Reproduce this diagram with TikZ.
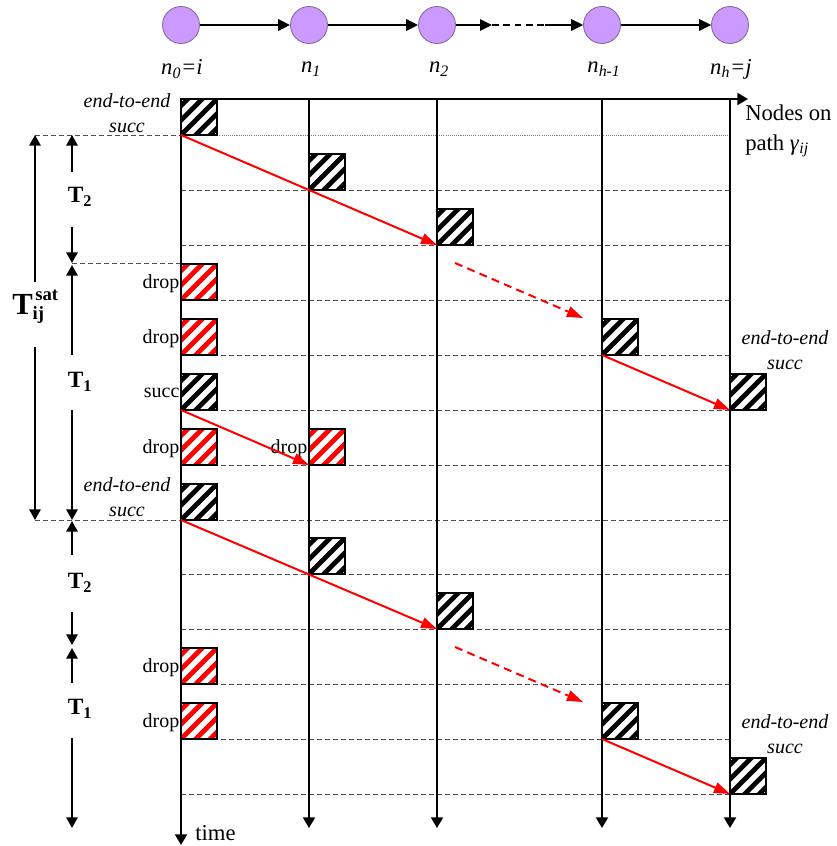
\documentclass[tikz,border=0pt]{standalone}
\usepackage{fontspec}
\setmainfont{Liberation Serif}
\usetikzlibrary{arrows.meta}

\definecolor{nodefill}{HTML}{CC99FF}
\definecolor{nodeline}{HTML}{7F6699}
\definecolor{gridgray}{gray}{0.3}

% hatched packet box: name, x, y of lower edge, stripe colour
\newcommand{\stripebox}[4]{%
  \node[stripes=#4, anchor=south west] (#1) at (#2,#3) {};}

\tikzset{
  stripes/.style={draw=black, line width=0.9pt, fill=white,
    minimum width=27pt, minimum height=27pt, inner sep=0pt, outer sep=0pt,
    path picture={
      \foreach \k in {-22,-11,0,11,22}{
        \draw[line width=3.6pt, #1]
          ([xshift=\k pt, yshift=-4pt]path picture bounding box.south west)
          ++(-4pt,0pt) -- ++(40pt,40pt);
      }}},
  taxis/.style={line width=1.5pt, -{Triangle[length=8pt,width=9pt]}},
  tspan/.style={line width=1.5pt, -{Triangle[length=8pt,width=8.5pt]}},
  redarr/.style={red, line width=1.5pt, -{Triangle[length=12pt,width=8pt]}},
  reddash/.style={redarr, dash pattern=on 6pt off 4pt},
  hgrid/.style={gridgray, line width=0.75pt, dash pattern=on 3.75pt off 2.25pt},
  dotgrid/.style={gray, line width=0.5pt, dash pattern=on 0.8pt off 0.8pt},
  lbl/.style={font=\fontsize{15}{18}\selectfont, inner sep=1pt},
  e2e/.style={font=\fontsize{15}{18}\selectfont\itshape, align=center, inner sep=0pt},
  tlbl/.style={font=\fontsize{17.5}{20}\selectfont\bfseries, inner sep=0pt},
  bigtxt/.style={font=\fontsize{17}{20}\selectfont, inner sep=0pt},
  pnode/.style={circle, fill=nodefill, draw=nodeline, line width=0.6pt,
    minimum size=27.75pt, inner sep=0pt},
  ntext/.style={font=\fontsize{17}{20}\selectfont\itshape, inner sep=0pt},
  linkarr/.style={line width=1.5pt, -{Triangle[length=9pt,width=8.5pt]}},
}

\begin{document}
\begin{tikzpicture}[x=0.75pt, y=-0.75pt]
\useasboundingbox (0,0) rectangle (837,846);

% ---- path of nodes ----
\node[pnode] (c0) at (181,25) {};
\node[pnode] (c1) at (309,25) {};
\node[pnode] (c2) at (437,25) {};
\node[pnode] (c3) at (602,25) {};
\node[pnode] (c4) at (730,25) {};
\coordinate (m1) at (492,25);
\coordinate (m2) at (545,25);
\draw[linkarr] (c0) -- (c1);
\draw[linkarr] (c1) -- (c2);
\draw[linkarr] (c2) -- (m1);
\draw[line width=1.5pt, dash pattern=on 5pt off 3.5pt] (m1) -- (m2);
\draw[linkarr] (m2) -- (c3);
\draw[linkarr] (c3) -- (c4);

\node[ntext] (l0) at (182,69) {n\textsubscript{0}=i};
\node[ntext] (l1) at (311,69) {n\textsubscript{1}};
\node[ntext] (l2) at (439,69) {n\textsubscript{2}};
\node[ntext] (l3) at (604,69) {n\textsubscript{h-1}};
\node[ntext] (l4) at (731,69) {n\textsubscript{h}=j};

% ---- slot boundaries ----
\draw[hgrid] (35,135) -- (181,135);
\draw[dotgrid] (181,135) -- (730,135);
\draw[hgrid] (72,263) -- (181,263);
\foreach \y in {190,245,300,355,410,465,574,629,684,739,794}
  \draw[hgrid] (181,\y) -- (730,\y);
\draw[hgrid] (35,520) -- (730,520);

% ---- time axes ----
\coordinate (t0) at (181,99);  \coordinate (e0) at (181,845);
\coordinate (t1) at (309,99);  \coordinate (e1) at (309,828);
\coordinate (t2) at (437,99);  \coordinate (e2) at (437,828);
\coordinate (t3) at (602,99);  \coordinate (e3) at (602,828);
\coordinate (t4) at (730,99);  \coordinate (e4) at (730,828);
\coordinate (tend) at (748,99);
\draw[taxis] (t0) -- (e0);
\draw[taxis] (t1) -- (e1);
\draw[taxis] (t2) -- (e2);
\draw[taxis] (t3) -- (e3);
\draw[taxis] (t4) -- (e4);
\draw[taxis] (t0) -- (tend);

\node[bigtxt, anchor=west, align=left] (pathlbl) at (745,131)
  {Nodes on\\[2pt]path \textit{γ}\textsubscript{\textit{ij}}};
\node[bigtxt, anchor=west] (timelbl) at (195,833) {time};

% ---- packets ----
\stripebox{b1}{181}{135}{black}
\stripebox{b2}{309}{190}{black}
\stripebox{b3}{437}{245}{black}
\stripebox{b4}{181}{300}{red}
\stripebox{b5}{181}{355}{red}
\stripebox{b6}{602}{355}{black}
\stripebox{b7}{181}{410}{black}
\stripebox{b8}{730}{410}{black}
\stripebox{b9}{181}{465}{red}
\stripebox{b10}{309}{465}{red}
\stripebox{b11}{181}{520}{black}
\stripebox{b12}{309}{574}{black}
\stripebox{b13}{437}{629}{black}
\stripebox{b14}{181}{684}{red}
\stripebox{b15}{181}{739}{red}
\stripebox{b16}{602}{739}{black}
\stripebox{b17}{730}{794}{black}

% ---- packet labels ----
\node[e2e] (s1) at (127,113) {end-to-end\\[1pt]succ};
\node[e2e] (s2) at (127,497) {end-to-end\\[1pt]succ};
\node[e2e] (s3) at (785,350) {end-to-end\\[1pt]succ};
\node[e2e] (s4) at (785,734) {end-to-end\\[1pt]succ};
\node[lbl, anchor=east] (d4) at ([yshift=-1pt]b4.west) {drop};
\node[lbl, anchor=east] (d5) at ([yshift=-1pt]b5.west) {drop};
\node[lbl, anchor=east] (d7) at ([yshift=-1pt]b7.west) {succ};
\node[lbl, anchor=east] (d9) at ([yshift=-1pt]b9.west) {drop};
\node[lbl, anchor=east] (d10) at ([yshift=-1pt]b10.west) {drop};
\node[lbl, anchor=east] (d14) at ([yshift=-1pt]b14.west) {drop};
\node[lbl, anchor=east] (d15) at ([yshift=-1pt]b15.west) {drop};

% ---- forwarding ----
\coordinate (r1s) at (455,263); \coordinate (r1e) at (583,318);
\coordinate (r2s) at (455,647); \coordinate (r2e) at (583,702);
\draw[redarr] (b1.south west) -- (b3.south west);
\draw[reddash] (r1s) -- (r1e);
\draw[redarr] (b6.south west) -- (b8.south west);
\draw[redarr] (b7.south west) -- (b10.south west);
\draw[redarr] (b11.south west) -- (b13.south west);
\draw[reddash] (r2s) -- (r2e);
\draw[redarr] (b16.south west) -- (b17.south west);

% ---- period spans ----
\node[tlbl] (T2a) at (80,197) {T\textsubscript{2}};
\node[tlbl] (T1a) at (80,382) {T\textsubscript{1}};
\node[tlbl] (T2b) at (80,583) {T\textsubscript{2}};
\node[tlbl] (T1b) at (80,709) {T\textsubscript{1}};
\node[tlbl, anchor=west] (Tsat) at (12,307)
  {\fontsize{23}{26}\selectfont T\rlap{\hspace{2pt}\raisebox{10pt}{\fontsize{14}{16}\selectfont sat}}\raisebox{-4pt}{\fontsize{14}{16}\selectfont ij}};

\coordinate (a1) at (72,172); \coordinate (a1t) at (72,135);
\coordinate (a2) at (72,227); \coordinate (a2t) at (72,263);
\coordinate (a3) at (72,355); \coordinate (a3t) at (72,265);
\coordinate (a4) at (72,410); \coordinate (a4t) at (72,520);
\coordinate (a5) at (72,555); \coordinate (a5t) at (72,521);
\coordinate (a6) at (72,612); \coordinate (a6t) at (72,645);
\coordinate (a7) at (72,683); \coordinate (a7t) at (72,648);
\coordinate (a8) at (72,738); \coordinate (a8t) at (72,828);
\coordinate (s5) at (35,282); \coordinate (s5t) at (35,135);
\coordinate (s6) at (35,347); \coordinate (s6t) at (35,520);
\draw[tspan] (a1) -- (a1t);
\draw[tspan] (a2) -- (a2t);
\draw[tspan] (a3) -- (a3t);
\draw[tspan] (a4) -- (a4t);
\draw[tspan] (a5) -- (a5t);
\draw[tspan] (a6) -- (a6t);
\draw[tspan] (a7) -- (a7t);
\draw[tspan] (a8) -- (a8t);
\draw[tspan] (s5) -- (s5t);
\draw[tspan] (s6) -- (s6t);
\end{tikzpicture}
\end{document}
